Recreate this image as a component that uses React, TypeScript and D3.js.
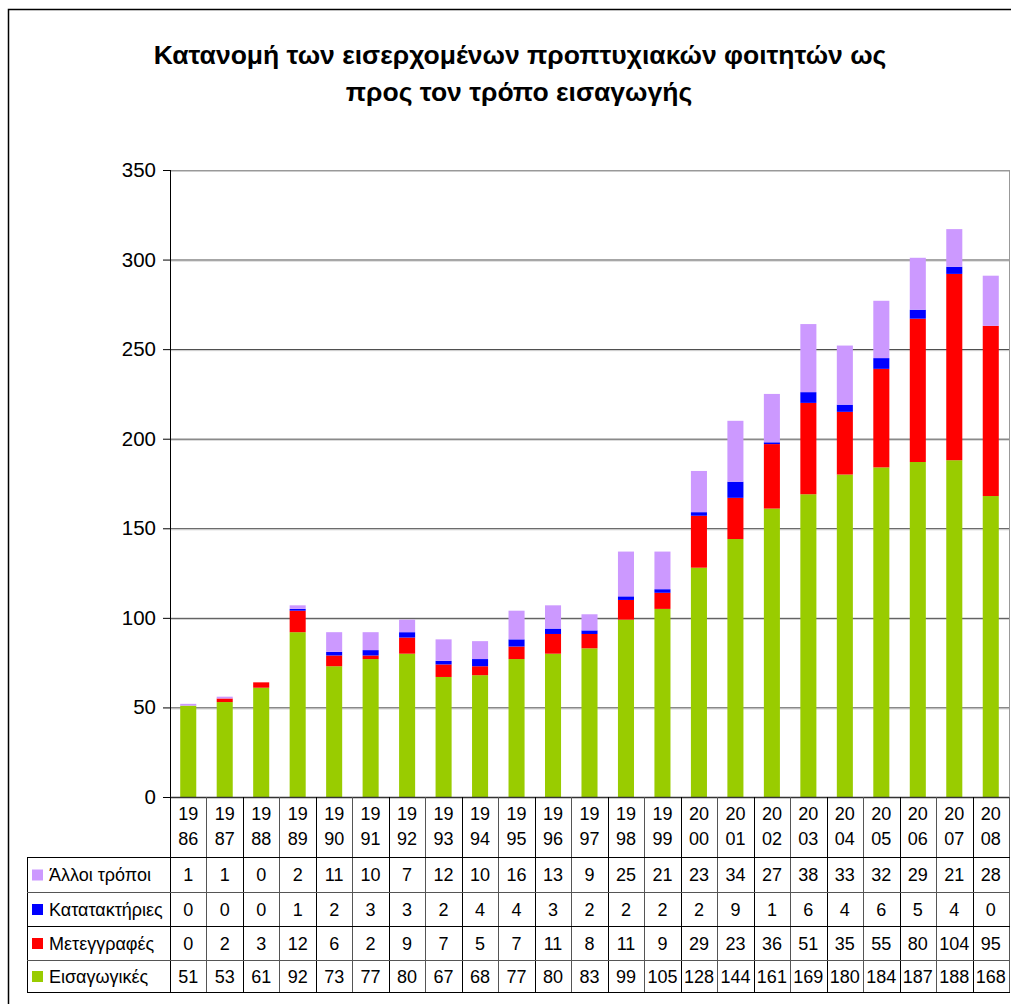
import React from "react";
import * as d3 from "d3";

const years = ["1986","1987","1988","1989","1990","1991","1992","1993","1994","1995","1996","1997","1998","1999","2000","2001","2002","2003","2004","2005","2006","2007","2008"];
const eisagogikes = [51,53,61,92,73,77,80,67,68,77,80,83,99,105,128,144,161,169,180,184,187,188,168];
const metegrafes = [0,2,3,12,6,2,9,7,5,7,11,8,11,9,29,23,36,51,35,55,80,104,95];
const katataktiries = [0,0,0,1,2,3,3,2,4,4,3,2,2,2,2,9,1,6,4,6,5,4,0];
const alloi = [1,1,0,2,11,10,7,12,10,16,13,9,25,21,23,34,27,38,33,32,29,21,28];
const yTicks = [0,50,100,150,200,250,300,350];

const seriesNames = ["Εισαγωγικές", "Μετεγγραφές", "Κατατακτήριες", "Άλλοι τρόποι"];
const seriesColors = ["#99cc00", "#ff0000", "#0000ff", "#cc99ff"];

const W = 1011;
const H = 1004;
const left = 170;
const right = 1009;
const top = 170;
const bottom = 797;
const tableLeft = 27;
const rowEdges = [857, 892, 926, 960, 992];

const App = () => {
  const rows = years.map((y, i) => ({
    year: y,
    s0: eisagogikes[i],
    s1: metegrafes[i],
    s2: katataktiries[i],
    s3: alloi[i],
  }));
  const keys = ["s0", "s1", "s2", "s3"];
  const stacked = d3.stack<any>().keys(keys)(rows);
  const values = [eisagogikes, metegrafes, katataktiries, alloi];

  const x = d3.scaleBand().domain(years).range([left, right]).paddingInner(0.56).paddingOuter(0.28);
  const col = d3.scaleBand().domain(years).range([left, right]);
  const y = d3.scaleLinear().domain([0, 350]).range([bottom, top]);

  const font = "'Liberation Sans', Arial, sans-serif";
  // table rows from top: Άλλοι, Κατατακτήριες, Μετεγγραφές, Εισαγωγικές
  const tableOrder = [3, 2, 1, 0];

  return (
    <svg width={W} height={H} style={{ position: "absolute", left: 0, top: 0 }} fontFamily={font}>
      <rect x={0} y={0} width={W} height={H} fill="#fff" />
      <rect x={8.5} y={9.5} width={W + 10} height={H + 10} fill="none" stroke="#000" strokeWidth={1.5} />
      <text x={520} y={64} textAnchor="middle" fontSize={26.5} fontWeight="bold">
        Κατανομή των εισερχομένων προπτυχιακών φοιτητών ως
      </text>
      <text x={519} y={101} textAnchor="middle" fontSize={26.5} fontWeight="bold">
        προς τον τρόπο εισαγωγής
      </text>

      {/* gridlines */}
      {yTicks.filter((t) => t > 0).map((t) => (
        <g key={t}>
          <line x1={left} x2={right} y1={y(t) + 0.5} y2={y(t) + 0.5} stroke={t === 350 ? "#999" : "#333"} />
          <line x1={left} x2={right} y1={y(t) + 1.5} y2={y(t) + 1.5} stroke="#ccc" />
        </g>
      ))}
      <line x1={right + 0.5} x2={right + 0.5} y1={top} y2={bottom} stroke="#999" />

      {/* bars */}
      {stacked.map((s, si) => (
        <g key={si} fill={seriesColors[si]}>
          {s.map((d, i) => (
            <rect key={i} x={x(years[i])} width={x.bandwidth()} y={y(d[1])} height={y(d[0]) - y(d[1])} />
          ))}
        </g>
      ))}

      {/* y axis */}
      <line x1={left + 0.5} x2={left + 0.5} y1={top} y2={bottom} stroke="#000" />
      {yTicks.map((t) => (
        <g key={t}>
          <line x1={left - 7} x2={left} y1={y(t) + 0.5} y2={y(t) + 0.5} stroke="#000" />
          <text x={left - 14} y={y(t) + 7} textAnchor="end" fontSize={20.5}>{t}</text>
        </g>
      ))}
      <line x1={left} x2={right} y1={bottom + 0.5} y2={bottom + 0.5} stroke="#333" strokeWidth={1.5} />

      {/* data table */}
      {years.map((yr, i) => (
        <g key={yr}>
          <text x={col(yr)! + col.bandwidth() / 2} y={820} textAnchor="middle" fontSize={18}>{yr.slice(0, 2)}</text>
          <text x={col(yr)! + col.bandwidth() / 2} y={845} textAnchor="middle" fontSize={18}>{yr.slice(2)}</text>
          {tableOrder.map((si, r) => (
            <text key={si} x={col(yr)! + col.bandwidth() / 2} y={(rowEdges[r] + rowEdges[r + 1]) / 2 + 6.5} textAnchor="middle" fontSize={18}>
              {values[si][i]}
            </text>
          ))}
        </g>
      ))}
      {years.concat(["end"]).map((yr, i) => {
        const xx = Math.round(left + i * col.bandwidth()) + 0.5;
        return <line key={yr} x1={xx} x2={xx} y1={bottom} y2={rowEdges[4]} stroke={i % 2 ? "#555" : "#000"} />;
      })}
      <line x1={tableLeft + 0.5} x2={tableLeft + 0.5} y1={rowEdges[0]} y2={rowEdges[4]} stroke="#000" />
      {rowEdges.map((ry, r) => (
        <line key={r} x1={tableLeft} x2={right + 1} y1={ry + 0.5} y2={ry + 0.5} stroke={r % 2 ? "#555" : "#000"} />
      ))}
      {tableOrder.map((si, r) => (
        <g key={si}>
          <rect x={32} y={(rowEdges[r] + rowEdges[r + 1]) / 2 - 5} width={11} height={11} fill={seriesColors[si]} />
          <text x={49} y={(rowEdges[r] + rowEdges[r + 1]) / 2 + 6.5} fontSize={18}>{seriesNames[si]}</text>
        </g>
      ))}
    </svg>
  );
};

export default App;
